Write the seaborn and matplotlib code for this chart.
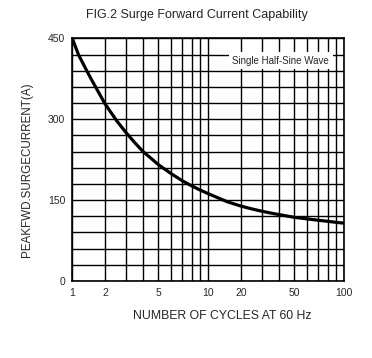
import numpy as np
import pandas as pd
import matplotlib
matplotlib.use("Agg")
import matplotlib.pyplot as plt
import seaborn as sns

# values
cycles = [1, 1.14, 1.36, 1.5, 1.66, 2, 2.5, 3, 3.5, 4, 4.5, 5, 6, 7, 8, 9, 10,
          13.8, 15, 20, 25, 30, 35, 40, 45, 50, 60, 70, 80, 90, 100]
current = [450, 420, 390, 374, 358, 329, 298, 276, 256, 240, 227.5, 216, 199,
           186, 176.5, 169, 162, 150, 147, 139, 133.5, 129.5, 126, 123.2, 120.5,
           118.2, 115.2, 112.7, 110.7, 108.9, 107.2]

x_grid = [1, 2, 3, 4, 5, 6, 7, 8, 9, 10, 20, 30, 40, 50, 60, 70, 80, 90, 100]
x_labels = ["1", "2", "", "", "5", "", "", "", "", "10", "20", "", "", "50",
            "", "", "", "", "100"]
y_grid = list(range(0, 451, 30))
y_labels = ["0", "150", "300", "450"]

# the printed chart paper is not an exact log grid: position of 1..10 in a decade
decade_frac = [0, .240, .393, .521, .632, .728, .809, .878, .938, 1.0]
grid_log = np.log10(x_grid)
grid_pos = np.array([d + f for d in (0, 1) for f in decade_frac[:-1]] + [2.0])


def fwd(x):
    with np.errstate(divide="ignore", invalid="ignore"):
        lx = np.log10(np.clip(np.asarray(x, dtype=float), 1e-6, None))
    return np.interp(lx, grid_log, grid_pos, left=-1, right=3)


def inv(p):
    return 10 ** np.interp(p, grid_pos, grid_log)


df = pd.DataFrame({"cycles": cycles, "current": current})

sns.set_style("white")
plt.rcParams["font.family"] = ["Liberation Sans", "DejaVu Sans"]

fig = plt.figure(figsize=(3.72, 3.58), dpi=100)
ax = fig.add_axes([0.1944, 0.2151, 0.7311, 0.6774])

ax.set_xscale("function", functions=(fwd, inv))
ax.set_xlim(1, 100)
ax.set_ylim(0, 450)

sns.lineplot(data=df, x="cycles", y="current", color="black", linewidth=2.3,
             ax=ax, zorder=4, sort=False)

ax.set_xticks(x_grid)
ax.set_xticklabels(x_labels)
ax.set_xticks([], minor=True)
ax.set_yticks(y_grid)
ax.set_yticklabels([str(v) if str(v) in y_labels else "" for v in y_grid])
ax.tick_params(axis="both", length=0, labelsize=7.5, pad=5)

ax.grid(True, color="black", linewidth=1.0)
ax.set_axisbelow(True)
for s in ax.spines.values():
    s.set_color("black")
    s.set_linewidth(1.2)

ax.text(41, 409, "Single Half-Sine Wave", fontsize=7, ha="center", va="center",
        zorder=3, bbox=dict(facecolor="white", edgecolor="none", pad=2.5))

fig.text(0.528, 0.958, "FIG.2 Surge Forward Current Capability", fontsize=9,
         ha="center", va="center")
ax.set_xlabel("NUMBER OF CYCLES AT 60 Hz", fontsize=8.8)
ax.xaxis.label.set_va("center")
ax.xaxis.set_label_coords(0.55, -0.143)
ax.set_ylabel("PEAKFWD.SURGECURRENT(A)", fontsize=8.4)
ax.yaxis.label.set_va("center")
ax.yaxis.set_label_coords(-0.168, 0.458)

fig.savefig("out.png", dpi=100)
